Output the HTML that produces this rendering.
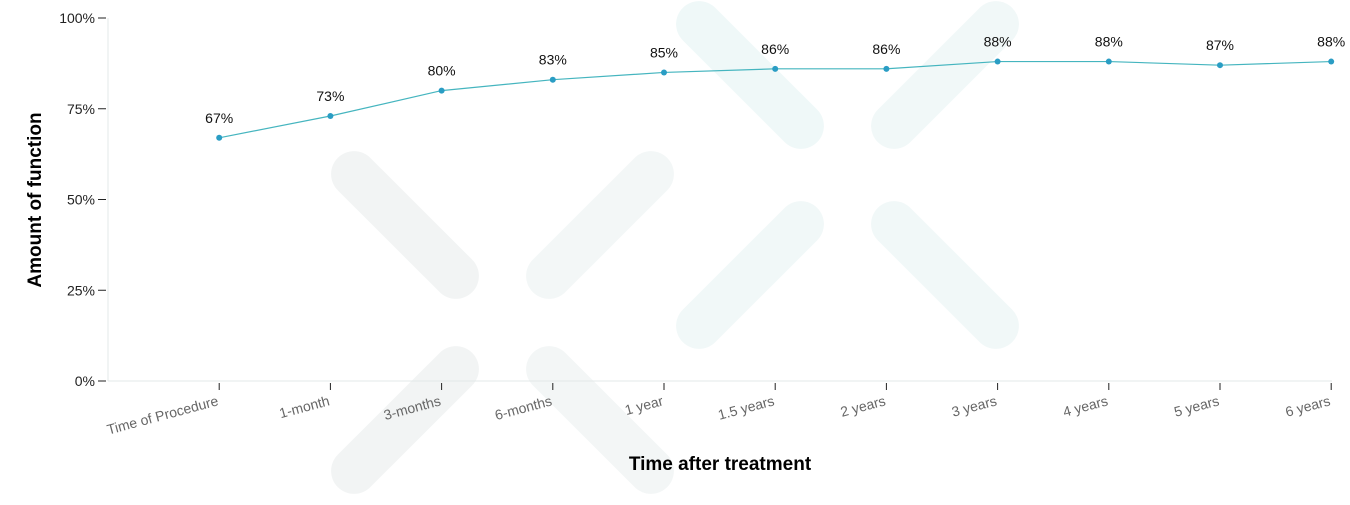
<!DOCTYPE html>
<html><head><meta charset="utf-8"><style>
body{margin:0;background:#fff;font-family:"Liberation Sans",sans-serif}
svg text{font-family:"Liberation Sans",sans-serif}
</style></head><body>
<svg width="1350" height="500" id="c">
<g id="wm"></g>
<g id="g"></g>
</svg>
<script>
const categories=["Time of Procedure","1-month","3-months","6-months","1 year","1.5 years","2 years","3 years","4 years","5 years","6 years"];
const values=[67,73,80,83,85,86,86,88,88,87,88];
const yTicks=[0,25,50,75,100];
const NS="http://www.w3.org/2000/svg";
const svg=document.getElementById('c'),g=document.getElementById('g'),wm=document.getElementById('wm');
function mk(t,a,p){const e=document.createElementNS(NS,t);for(const k in a)e.setAttribute(k,a[k]);(p||g).appendChild(e);return e;}
const x=i=>108+111.2*(i+1);
const y=v=>381-v*3.63;
// watermark pills
const pills=[[405,225,45,"#f2f4f4"],[600,225,-45,"#f3f7f7"],[750,75,45,"#eff8f8"],[750,275,-45,"#f1f8f8"],[945,75,-45,"#f1f8f8"],[945,275,45,"#f1f8f8"],[405,420,-45,"#f2f4f4"],[600,420,45,"#f3f6f6"]];
pills.forEach(p=>{const r=mk('rect',{x:p[0]-95,y:p[1]-23,width:190,height:46,rx:23,fill:p[3],transform:`rotate(${p[2]} ${p[0]} ${p[1]})`},wm);

});
// axes
let a=mk('line',{x1:108,y1:18,x2:108,y2:381,stroke:'#e3e8e8'});
a=mk('line',{x1:108,y1:381,x2:1332,y2:381,stroke:'#e3e8e8'});
yTicks.forEach(t=>{const yy=y(t);
const l=mk('line',{x1:98,y1:yy,x2:106,y2:yy,stroke:'#222'});
const tx=mk('text',{x:95,y:yy+5,'text-anchor':'end','font-size':14,fill:'#222'});tx.textContent=t+'%';
});
categories.forEach((c,i)=>{const xx=x(i);
const l=mk('line',{x1:xx,y1:383,x2:xx,y2:390,stroke:'#222'});
const tx=mk('text',{x:xx,y:405,'text-anchor':'end','font-size':14,fill:'#666',transform:`rotate(-15 ${xx} 405)`});tx.textContent=c;
});
const ln=mk('polyline',{points:values.map((v,i)=>x(i)+','+y(v)).join(' '),fill:'none',stroke:'#45b5bf','stroke-width':1.2});

values.forEach((v,i)=>{const d=mk('circle',{cx:x(i),cy:y(v),r:3,fill:'#2a9dc4'});

const t=mk('text',{x:x(i),y:y(v)-15,'text-anchor':'middle','font-size':14,fill:'#111'});t.textContent=v+'%';
});
let t=mk('text',{x:720,y:470,'text-anchor':'middle','font-size':19,'font-weight':'bold',fill:'#000'});t.textContent='Time after treatment';

t=mk('text',{x:41,y:200,'text-anchor':'middle','font-size':19,'font-weight':'bold',fill:'#000',transform:'rotate(-90 41 200)'});t.textContent='Amount of function';

</script>
</body></html>
